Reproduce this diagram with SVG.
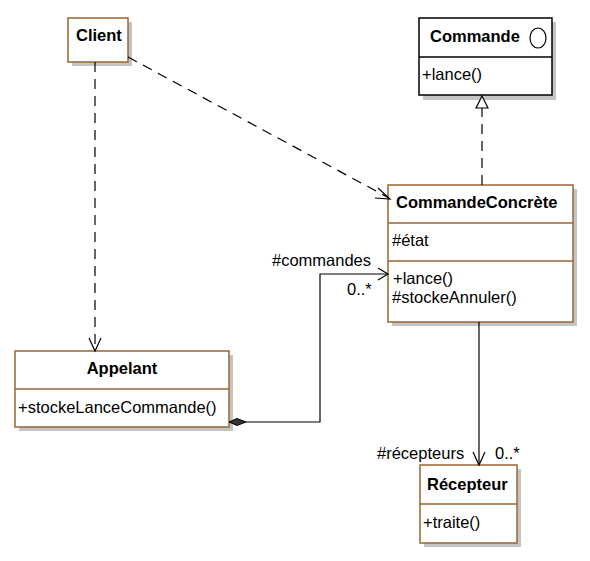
<svg xmlns="http://www.w3.org/2000/svg" width="590" height="561" viewBox="0 0 590 561">
<style>
.box{fill:#fff;stroke:#996633;stroke-width:1.5}
.boxk{fill:#fff;stroke:#000;stroke-width:1.5}
.sh{fill:#c4c4c4}
.div{stroke:#996633;stroke-width:1.5}
.divk{stroke:#000;stroke-width:1.5}
text{font-family:"Liberation Sans",Arial,sans-serif;font-size:16.5px;fill:#000}
.b{font-weight:bold}
.ln{fill:none;stroke:#000;stroke-width:1.2}
.dash{stroke-dasharray:10,7}
</style>
<rect width="590" height="561" fill="#fff"/>
<g id="Client">
<rect class="sh" x="72" y="22" width="60" height="44"/>
<rect class="box" x="68" y="18" width="60" height="44"/>
<text class="b" x="76" y="41">Client</text>
</g>
<g id="Commande">
<rect class="sh" x="423" y="22" width="133" height="78"/>
<rect class="boxk" x="419" y="18" width="133" height="77"/>
<line class="divk" x1="419" y1="57" x2="552" y2="57"/>
<text class="b" x="430" y="42">Commande</text>
<ellipse cx="538" cy="38" rx="8" ry="10" fill="none" stroke="#000" stroke-width="1.2"/>
<text x="422" y="80">+lance()</text>
</g>
<g id="CommandeConcrete">
<rect class="sh" x="392" y="189" width="185" height="137"/>
<rect class="box" x="388" y="185" width="185" height="137"/>
<line class="div" x1="388" y1="223" x2="573" y2="223"/>
<line class="div" x1="388" y1="261" x2="573" y2="261"/>
<text class="b" x="396" y="208">CommandeConcrète</text>
<text x="392" y="246">#état</text>
<text x="393" y="284">+lance()</text>
<text x="392" y="303">#stockeAnnuler()</text>
</g>
<g id="Appelant">
<rect class="sh" x="19" y="355" width="214" height="76"/>
<rect class="box" x="15" y="351" width="214" height="76"/>
<line class="div" x1="15" y1="389" x2="229" y2="389"/>
<text class="b" x="122" y="374" text-anchor="middle">Appelant</text>
<text x="18" y="413">+stockeLanceCommande()</text>
</g>
<g id="Recepteur">
<rect class="sh" x="424" y="469" width="97" height="78"/>
<rect class="box" x="420" y="465" width="97" height="78"/>
<line class="div" x1="420" y1="504" x2="517" y2="504"/>
<text class="b" x="427" y="490">Récepteur</text>
<text x="423" y="528">+traite()</text>
</g>
<g id="connectors">
<line class="ln dash" x1="95" y1="62" x2="95" y2="350"/>
<polyline class="ln" points="89,338 95,351 101,338"/>
<line class="ln dash" x1="128" y1="57" x2="389" y2="198"/>
<polyline class="ln" points="378,188 390,199 375,198"/>
<line class="ln dash" x1="482" y1="185" x2="482" y2="108"/>
<polygon points="482,96 476,108 488,108" fill="#fff" stroke="#000" stroke-width="1.2"/>
<polygon points="229,422 237,418.5 246,422 237,425.5" fill="#333" stroke="#000" stroke-width="1"/>
<polyline class="ln" points="246,422 320,422 320,274 388,274"/>
<polyline class="ln" points="378,268 388,274 378,280"/>
<text x="272" y="266">#commandes</text>
<text x="347" y="295">0..*</text>
<line class="ln" x1="479" y1="322" x2="479" y2="464"/>
<polyline class="ln" points="473,452 479,465 485,452"/>
<text x="377" y="459">#récepteurs</text>
<text x="495" y="459">0..*</text>
</g>
</svg>
